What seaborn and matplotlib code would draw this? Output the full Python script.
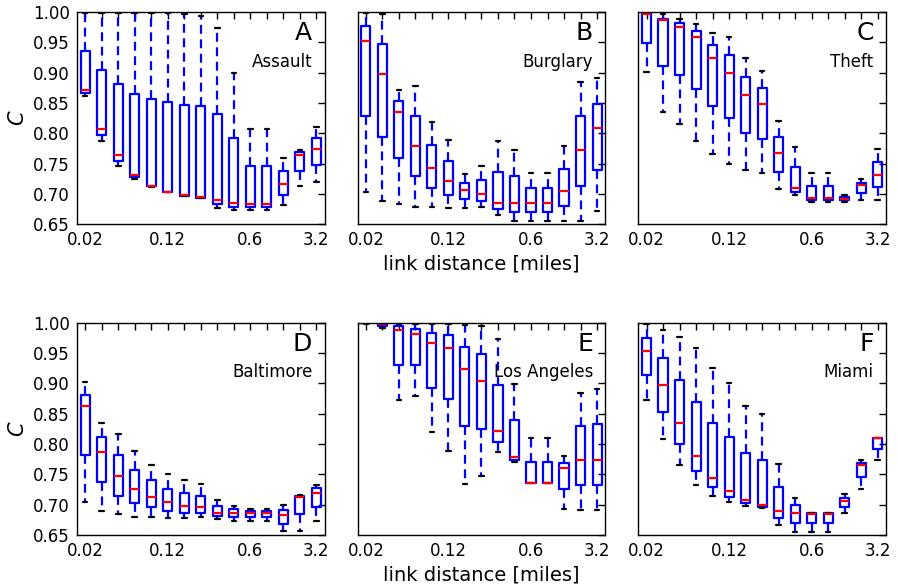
import numpy as np
import pandas as pd
import matplotlib
matplotlib.use("Agg")
import matplotlib.pyplot as plt
import seaborn as sns

# x axis: 15 link-distance bins, only a few labelled
tick_labels = ["0.02", "", "", "", "", "0.12", "", "", "", "", "0.6", "", "", "", "3.2"]
y_ticks = [0.65, 0.70, 0.75, 0.80, 0.85, 0.90, 0.95, 1.00]

panel_letters = ["A", "B", "C", "D", "E", "F"]
panel_names = ["Assault", "Burglary", "Theft", "Baltimore", "Los Angeles", "Miami"]

# Five-number summaries per bin: [whisker low, Q1, median, Q3, whisker high]
assault = [
    [0.862, 0.866, 0.872, 0.936, 0.999],
    [0.787, 0.797, 0.807, 0.904, 0.999],
    [0.746, 0.755, 0.765, 0.882, 0.999],
    [0.725, 0.728, 0.731, 0.865, 0.998],
    [0.712, 0.713, 0.713, 0.857, 0.998],
    [0.703, 0.703, 0.704, 0.852, 0.998],
    [0.696, 0.697, 0.698, 0.847, 0.996],
    [0.693, 0.694, 0.695, 0.845, 0.994],
    [0.677, 0.684, 0.690, 0.832, 0.973],
    [0.673, 0.679, 0.686, 0.793, 0.900],
    [0.673, 0.678, 0.683, 0.746, 0.808],
    [0.673, 0.678, 0.683, 0.746, 0.808],
    [0.682, 0.699, 0.716, 0.738, 0.760],
    [0.713, 0.738, 0.765, 0.769, 0.772],
    [0.720, 0.748, 0.774, 0.792, 0.810],
]
burglary = [
    [0.703, 0.828, 0.953, 0.977, 0.998],
    [0.689, 0.794, 0.897, 0.947, 0.996],
    [0.683, 0.759, 0.835, 0.853, 0.871],
    [0.679, 0.730, 0.779, 0.829, 0.878],
    [0.678, 0.710, 0.743, 0.781, 0.819],
    [0.677, 0.699, 0.722, 0.755, 0.789],
    [0.677, 0.692, 0.707, 0.719, 0.733],
    [0.679, 0.689, 0.700, 0.723, 0.747],
    [0.666, 0.675, 0.686, 0.736, 0.787],
    [0.655, 0.670, 0.686, 0.729, 0.772],
    [0.655, 0.670, 0.685, 0.710, 0.735],
    [0.655, 0.670, 0.685, 0.710, 0.735],
    [0.655, 0.680, 0.705, 0.742, 0.779],
    [0.655, 0.714, 0.773, 0.828, 0.885],
    [0.672, 0.740, 0.809, 0.849, 0.891],
]
theft = [
    [0.901, 0.949, 0.997, 0.998, 1.000],
    [0.835, 0.911, 0.987, 0.989, 0.996],
    [0.816, 0.896, 0.976, 0.982, 0.989],
    [0.788, 0.873, 0.958, 0.969, 0.981],
    [0.766, 0.845, 0.924, 0.945, 0.965],
    [0.749, 0.825, 0.899, 0.929, 0.959],
    [0.739, 0.801, 0.863, 0.893, 0.924],
    [0.734, 0.791, 0.848, 0.875, 0.903],
    [0.708, 0.737, 0.767, 0.794, 0.821],
    [0.698, 0.704, 0.710, 0.745, 0.777],
    [0.687, 0.690, 0.693, 0.714, 0.735],
    [0.687, 0.690, 0.693, 0.714, 0.735],
    [0.687, 0.690, 0.692, 0.695, 0.699],
    [0.691, 0.702, 0.715, 0.719, 0.724],
    [0.691, 0.712, 0.732, 0.753, 0.774],
]
baltimore = [
    [0.704, 0.782, 0.862, 0.881, 0.902],
    [0.689, 0.737, 0.786, 0.811, 0.835],
    [0.684, 0.715, 0.748, 0.781, 0.816],
    [0.679, 0.703, 0.725, 0.757, 0.788],
    [0.679, 0.696, 0.713, 0.740, 0.766],
    [0.678, 0.690, 0.704, 0.726, 0.750],
    [0.678, 0.687, 0.698, 0.719, 0.740],
    [0.679, 0.687, 0.696, 0.715, 0.734],
    [0.677, 0.682, 0.686, 0.697, 0.708],
    [0.673, 0.679, 0.687, 0.692, 0.697],
    [0.673, 0.679, 0.686, 0.690, 0.693],
    [0.673, 0.679, 0.686, 0.690, 0.693],
    [0.656, 0.668, 0.683, 0.691, 0.699],
    [0.656, 0.684, 0.713, 0.715, 0.716],
    [0.673, 0.696, 0.720, 0.727, 0.733],
]
los_angeles = [
    [0.997, 0.999, 1.000, 1.000, 1.000],
    [0.991, 0.994, 0.997, 0.999, 1.000],
    [0.872, 0.930, 0.988, 0.994, 0.998],
    [0.879, 0.930, 0.981, 0.990, 0.998],
    [0.820, 0.892, 0.966, 0.982, 0.998],
    [0.789, 0.874, 0.958, 0.979, 0.998],
    [0.734, 0.829, 0.924, 0.960, 0.996],
    [0.747, 0.825, 0.903, 0.948, 0.995],
    [0.787, 0.804, 0.821, 0.897, 0.973],
    [0.771, 0.774, 0.778, 0.839, 0.899],
    [0.735, 0.735, 0.735, 0.771, 0.809],
    [0.735, 0.735, 0.735, 0.771, 0.809],
    [0.692, 0.726, 0.760, 0.769, 0.780],
    [0.691, 0.732, 0.773, 0.829, 0.884],
    [0.691, 0.733, 0.774, 0.833, 0.891],
]
miami = [
    [0.873, 0.913, 0.953, 0.975, 0.998],
    [0.808, 0.852, 0.897, 0.942, 0.987],
    [0.766, 0.800, 0.835, 0.906, 0.976],
    [0.732, 0.756, 0.780, 0.869, 0.958],
    [0.714, 0.729, 0.744, 0.834, 0.925],
    [0.705, 0.713, 0.722, 0.811, 0.900],
    [0.697, 0.702, 0.707, 0.785, 0.863],
    [0.694, 0.696, 0.699, 0.774, 0.849],
    [0.666, 0.678, 0.690, 0.729, 0.767],
    [0.655, 0.670, 0.687, 0.699, 0.711],
    [0.655, 0.669, 0.684, 0.686, 0.687],
    [0.655, 0.669, 0.684, 0.686, 0.687],
    [0.687, 0.696, 0.706, 0.711, 0.718],
    [0.725, 0.746, 0.765, 0.769, 0.773],
    [0.774, 0.791, 0.809, 0.810, 0.810],
]

panels = [assault, burglary, theft, baltimore, los_angeles, miami]

# Long-form table: each bin contributes its five summary values, so the
# quartiles land on Q1/median/Q3 and whiskers at min/max with whis=(0, 100)
rows = []
for p, summary in enumerate(panels):
    for b, vals in enumerate(summary):
        for v in vals:
            rows.append({"panel": p, "bin": b, "C": v})
df = pd.DataFrame(rows)

sns.set_theme(style="white")
plt.rcParams["font.family"] = ["DejaVu Sans"]
plt.rcParams["mathtext.fontset"] = "dejavusans"
plt.rcParams["text.color"] = "black"
plt.rcParams["axes.labelcolor"] = "black"
plt.rcParams["xtick.color"] = "black"
plt.rcParams["ytick.color"] = "black"

fig, axes = plt.subplots(2, 3, figsize=(8.98, 5.87), dpi=100, sharey=True)
fig.subplots_adjust(left=0.0857, right=0.9866, top=0.9796, bottom=0.0886,
                    wspace=0.133, hspace=0.462)

for p, ax in enumerate(axes.flat):
    sub = df[df["panel"] == p]
    sns.boxplot(
        data=sub, x="bin", y="C", ax=ax, order=list(range(15)),
        whis=(0, 100), fill=False, color="#0000ff", width=0.55,
        linewidth=1.6, showfliers=False,
        medianprops=dict(color="#ff0000"),
        capprops=dict(color="black"),
        whiskerprops=dict(linestyle=(0, (4, 2.5))),
    )
    ax.set_xlim(-0.5, 14.5)
    ax.set_ylim(0.65, 1.0)
    ax.set_xticks(range(15))
    ax.set_xticklabels(tick_labels)
    ax.set_yticks(y_ticks)
    ax.yaxis.set_major_formatter(matplotlib.ticker.FormatStrFormatter("%.2f"))
    ax.tick_params(direction="in", top=True, right=True, length=5, width=1,
                   labelsize=12, color="black", labelcolor="black", pad=5)
    for s in ax.spines.values():
        s.set_visible(True)
        s.set_color("black")
        s.set_linewidth(1.0)
    ax.set_xlabel("")
    ax.set_ylabel("")
    if p % 3 == 0:
        ax.set_ylabel("$C$", fontsize=15, labelpad=4, color="black")
    if p % 3 == 1:
        ax.set_xlabel("link distance [miles]", fontsize=14, labelpad=4,
                      color="black")
    ax.text(0.95, 0.90, panel_letters[p], transform=ax.transAxes,
            ha="right", va="center", fontsize=18, color="black")
    ax.text(0.95, 0.765, panel_names[p], transform=ax.transAxes,
            ha="right", va="center", fontsize=12, color="black")

fig.savefig("out.png", dpi=100)
